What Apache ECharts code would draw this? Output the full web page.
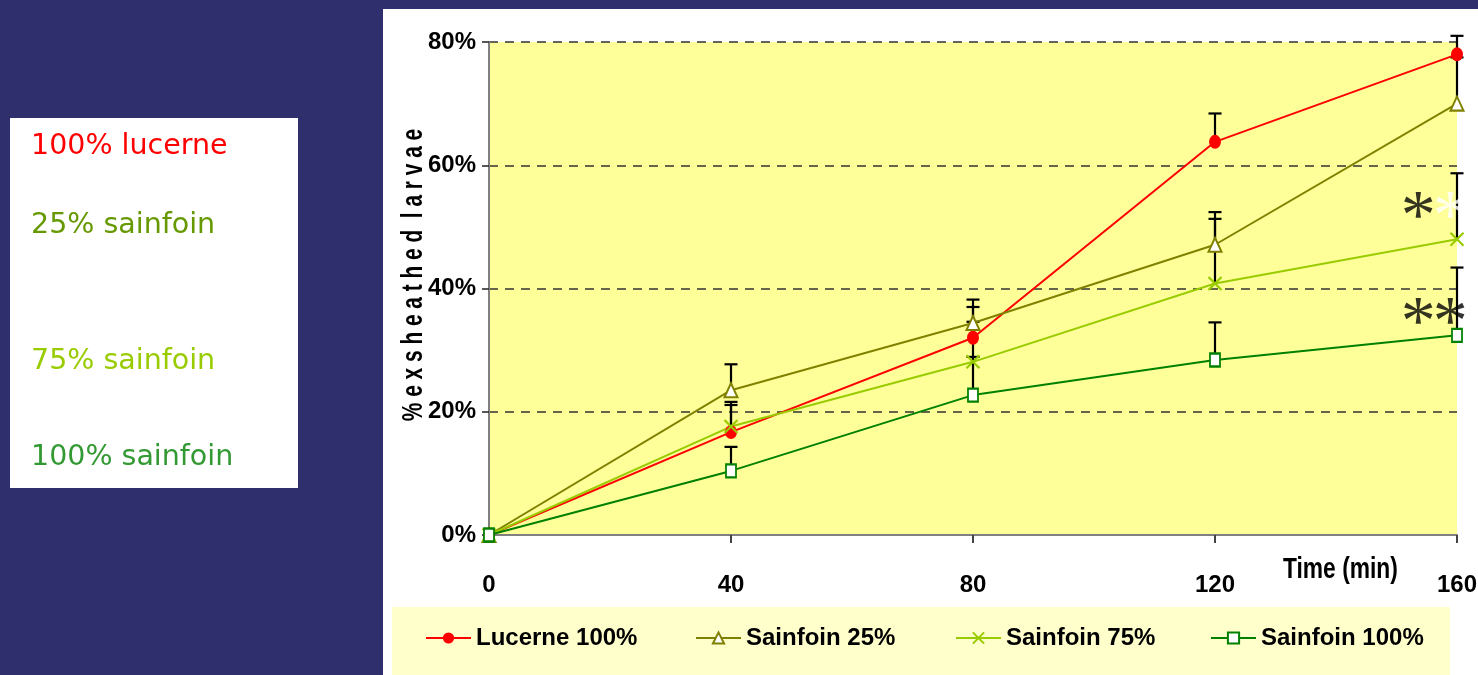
<!DOCTYPE html>
<html><head><meta charset="utf-8">
<script src="https://cdn.jsdelivr.net/npm/echarts@6/dist/echarts.min.js"></script>
<style>html,body{margin:0;padding:0;background:#2f2e6b;}#c{width:1478px;height:675px;}</style>
</head><body><div id="c"></div>
<script>
// ---- data ----
const times = [0, 40, 80, 120, 160];
const seriesNames = ['Lucerne 100%', 'Sainfoin 25%', 'Sainfoin 75%', 'Sainfoin 100%'];
const lucerne100 = [0, 16.7, 32.0, 63.8, 78.0];
const sainfoin25 = [0, 23.5, 34.4, 47.1, 70.0];
const sainfoin75 = [0, 17.6, 28.1, 40.8, 48.0];
const sainfoin100 = [0, 10.4, 22.7, 28.4, 32.4];
// upper end of the error bars
const lucerne100Upper = [null, 21.6, 37.0, 68.4, 81.0];
const sainfoin25Upper = [null, 27.7, 38.2, 52.4, 77.5];
const sainfoin75Upper = [null, 21.1, 34.6, 51.3, 58.7];
const sainfoin100Upper = [null, 14.3, 28.9, 34.5, 43.4];
const xTickLabels = ['0', '40', '80', '120', '160'];
const yTickLabels = ['0%', '20%', '40%', '60%', '80%'];
const sideLabels = ['100% lucerne', '25% sainfoin', '75% sainfoin', '100% sainfoin'];
// significance marks: [time, value, colour]
const marks = [[153.6, 53.5, '#000000'], [158.9, 53.5, '#ffffff'], [153.6, 36.2, '#000000'], [158.9, 36.2, '#000000']];

const F = "'Liberation Sans', Arial, sans-serif";
const colors = ['#ff0000', '#808000', '#99cc00', '#008000'];
const values = [lucerne100, sainfoin25, sainfoin75, sainfoin100];
const uppers = [lucerne100Upper, sainfoin25Upper, sainfoin75Upper, sainfoin100Upper];

const errData = [];
values.forEach((v, s) => {
  v.forEach((y, i) => { if (uppers[s][i] != null) errData.push([times[i], y, uppers[s][i]]); });
});

const symbolCfg = [
  { symbol: 'circle', symbolSize: [12, 14], itemStyle: { color: '#ff0000' } },
  { symbol: 'triangle', symbolSize: [13, 14], itemStyle: { color: '#ffffff', borderColor: '#808000', borderWidth: 2 } },
  { symbol: 'path://M0 0L10 10M10 0L0 10', symbolSize: [13, 13], itemStyle: { color: '#99cc00', borderColor: '#99cc00', borderWidth: 2.2 } },
  { symbol: 'rect', symbolSize: [10, 13], itemStyle: { color: '#ffffff', borderColor: '#008000', borderWidth: 2 } }
];

const lineSeries = seriesNames.map((n, s) => Object.assign({
  name: n, type: 'line', z: 5,
  data: times.map((t, i) => [t, values[s][i]]),
  lineStyle: { color: colors[s], width: 2 },
  showAllSymbol: true
}, symbolCfg[s]));

const legendLefts = [425, 695, 955, 1210];
const legends = seriesNames.map((n, i) => ({
  data: [n], left: legendLefts[i], top: 626, padding: 0,
  itemWidth: 45, itemHeight: 14, selectedMode: false,
  textStyle: { fontFamily: F, fontWeight: 'bold', fontSize: 24, color: '#000' }
}));

const sideY = [147, 226, 362, 458];
const sideColors = ['#ff0000', '#669900', '#99cc00', '#339933'];

const chart = echarts.init(document.getElementById('c'));
chart.setOption({
  backgroundColor: '#302f6d',
  animation: false,
  grid: { left: 489, right: 21, top: 42, bottom: 140, show: true, backgroundColor: '#ffff99', borderWidth: 0,
    containLabel: false, outerBoundsMode: 'none' },
  xAxis: {
    type: 'value', min: 0, max: 160, interval: 40,
    axisLine: { lineStyle: { color: '#808080', width: 2 } },
    axisTick: { show: true, length: 8, lineStyle: { color: '#444', width: 2 } },
    axisLabel: { margin: 38, fontFamily: F, fontWeight: 'bold', fontSize: 24, color: '#000',
      formatter: v => xTickLabels[times.indexOf(v)] },
    splitLine: { show: false }
  },
  yAxis: {
    type: 'value', min: 0, max: 80, interval: 20,
    axisLine: { show: true, lineStyle: { color: '#808080', width: 2 } },
    axisTick: { show: true, length: 7, lineStyle: { color: '#222', width: 1.5 } },
    axisLabel: { margin: 13, fontFamily: F, fontWeight: 'bold', fontSize: 24, color: '#000',
      formatter: v => yTickLabels[v / 20] },
    splitLine: { show: true, lineStyle: { color: '#333', width: 1.5, type: [9, 7] } }
  },
  legend: legends,
  graphic: [
    { type: 'rect', z: -20, shape: { x: 383, y: 9, width: 1095, height: 666 }, style: { fill: '#ffffff' } },
    { type: 'rect', z: -10, shape: { x: 392, y: 607, width: 1058, height: 68 }, style: { fill: '#ffffcc' } },
    { type: 'rect', z: -10, shape: { x: 10, y: 118, width: 288, height: 370 }, style: { fill: '#ffffff' } },
    ...sideLabels.map((t, i) => ({ type: 'text', z: 10, x: 31, y: sideY[i],
      style: { text: t, fill: sideColors[i], font: "28.5px 'DejaVu Sans', sans-serif", verticalAlign: 'middle' } })),
    { type: 'text', z: 10, x: 414, y: 275, rotation: Math.PI / 2, scaleX: 0.72,
      style: { text: '% e x s h e a t h e d  l a r v a e', fill: '#000', font: "bold 29px " + F, align: 'center', verticalAlign: 'middle' } },
    { type: 'text', z: 10, x: 1283, y: 570, scaleX: 0.76,
      style: { text: 'Time (min)', fill: '#000', font: "bold 30px " + F, verticalAlign: 'middle' } }
  ],
  series: [
    {
      type: 'custom', z: 3, clip: false,
      data: errData,
      encode: { x: 0, y: [1, 2] },
      renderItem: (params, api) => {
        const x = api.value(0);
        const lo = api.coord([x, api.value(1)]);
        const hi = api.coord([x, api.value(2)]);
        const hw = 6.5;
        return { type: 'group', children: [
          { type: 'line', shape: { x1: lo[0], y1: lo[1], x2: hi[0], y2: hi[1] }, style: { stroke: '#000', lineWidth: 2.2 } },
          { type: 'line', shape: { x1: hi[0] - hw, y1: hi[1], x2: hi[0] + hw, y2: hi[1] }, style: { stroke: '#000', lineWidth: 2.2 } }
        ] };
      }
    },
    ...lineSeries,
    {
      type: 'scatter', z: 8, symbolSize: 2, itemStyle: { color: 'rgba(0,0,0,0)' }, silent: true,
      data: marks.map(m => ({ value: [m[0], m[1]], label: { show: true, formatter: '*', color: m[2],
        fontFamily: "'Liberation Serif','Times New Roman',serif", fontSize: 70, position: 'inside', offset: [0, 14] } }))
    }
  ]
});
</script></body></html>
